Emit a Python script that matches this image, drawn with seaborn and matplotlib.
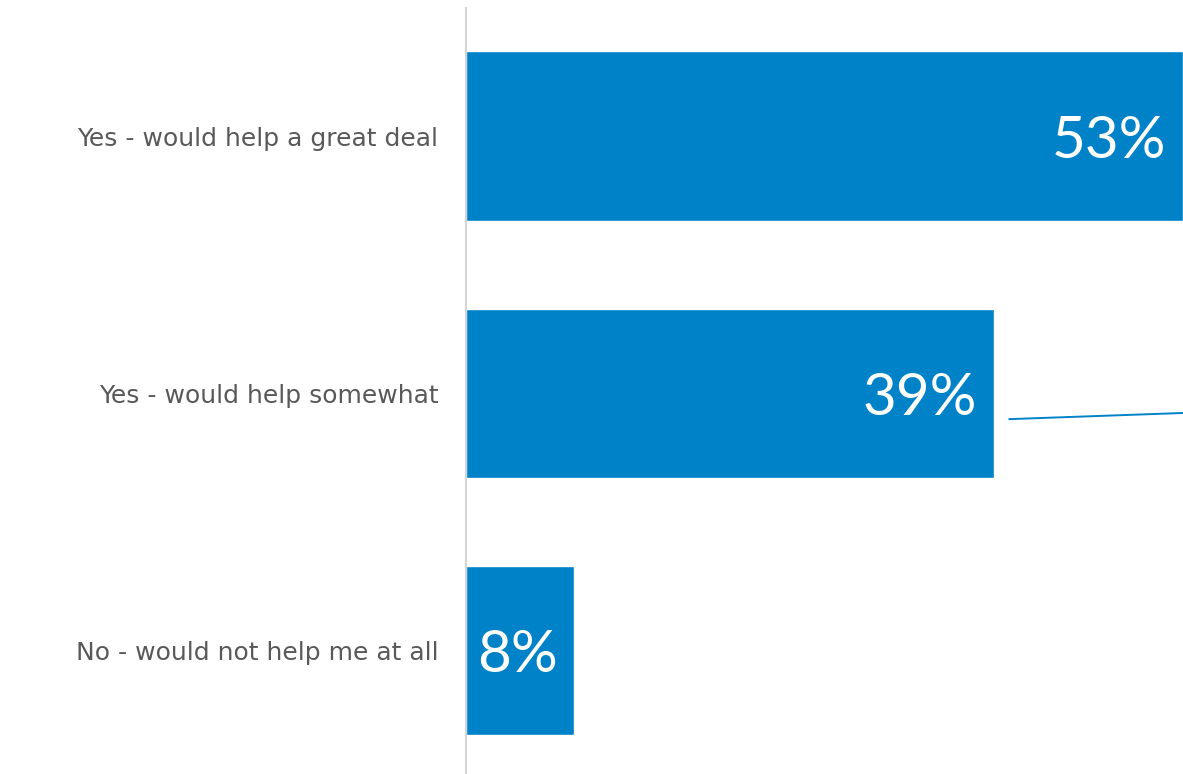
import matplotlib
matplotlib.use("Agg")
import matplotlib.pyplot as plt
import seaborn as sns
import pandas as pd

# Survey responses: would this help you?
categories = [
    "Yes - would help a great deal",
    "Yes - would help somewhat",
    "No - would not help me at all",
]
shares = [53, 39, 8]

df = pd.DataFrame({"answer": categories, "share": shares})

sns.set_theme(style="white")
plt.rcParams["font.family"] = ["DejaVu Sans"]

bar_color = "#0082C8"
label_grey = "#595959"

fig = plt.figure(figsize=(11.83, 7.74), dpi=100)
ax = fig.add_axes([0.394, 0.0, 0.606, 0.99])

sns.barplot(data=df, x="share", y="answer", orient="h", color=bar_color,
            saturation=1, width=0.66, ax=ax)

ax.set_xlim(0, max(shares))
ax.set_ylim(2.48, -0.5)

# value labels inside the bar ends
for i, v in enumerate(shares):
    ax.annotate(f"{v}%", xy=(v, i), xytext=(-12, 0), textcoords="offset points",
                ha="right", va="center_baseline", color="white", fontsize=42,
                family=["Lato", "DejaVu Sans"])

# connector line running out from the middle bar
ax.plot([shares[1] + 1.1, max(shares)], [1.10, 1.076], color=bar_color,
        lw=1.4, clip_on=False, solid_capstyle="butt")

ax.set_xlabel("")
ax.set_ylabel("")
ax.set_xticks([])
ax.tick_params(axis="y", length=0, pad=20, labelsize=18, labelcolor=label_grey)

for side in ["top", "right", "bottom"]:
    ax.spines[side].set_visible(False)
ax.spines["left"].set_color("#D0D0D0")
ax.spines["left"].set_linewidth(1.3)

fig.savefig("out.png", dpi=100, facecolor="white")
